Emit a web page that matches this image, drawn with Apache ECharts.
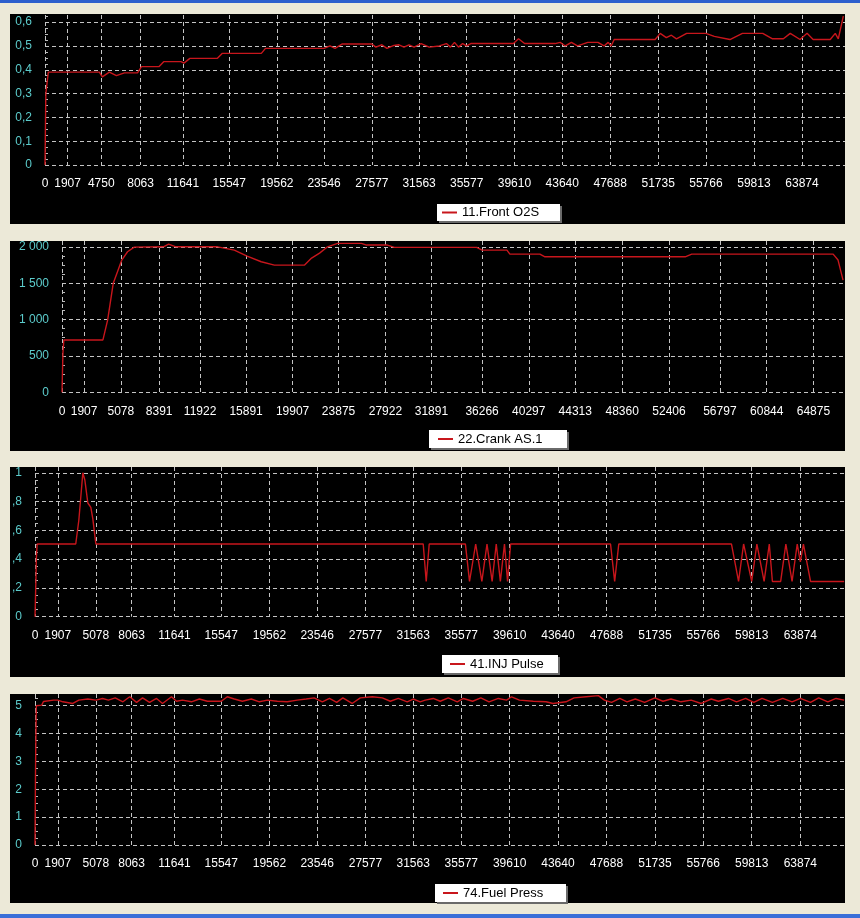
<!DOCTYPE html>
<html>
<head>
<meta charset="utf-8">
<script src="https://cdn.jsdelivr.net/npm/echarts@6/dist/echarts.min.js"></script>
<style>
html,body{margin:0;padding:0;background:#ece9d8;}
#chart{width:860px;height:918px;}
</style>
</head>
<body>
<div id="chart"></div>
<script>
// ---- tick labels ----
const xTicksO2S = [0,1907,4750,8063,11641,15547,19562,23546,27577,31563,35577,39610,43640,47688,51735,55766,59813,63874];
const xTicksCrank = [0,1907,5078,8391,11922,15891,19907,23875,27922,31891,36266,40297,44313,48360,52406,56797,60844,64875];
const xTicksInj = [0,1907,5078,8063,11641,15547,19562,23546,27577,31563,35577,39610,43640,47688,51735,55766,59813,63874];
const xTicksFuel = [0,1907,5078,8063,11641,15547,19562,23546,27577,31563,35577,39610,43640,47688,51735,55766,59813,63874];
const yTicksO2S = [0,0.1,0.2,0.3,0.4,0.5,0.6];
const yTicksCrank = [0,500,1000,1500,2000];
const yTicksInj = [0,0.2,0.4,0.6,0.8,1];
const yTicksFuel = [0,1,2,3,4,5];

// ---- series names ----
const names = ['11.Front O2S','22.Crank AS.1','41.INJ Pulse','74.Fuel Press'];

// ---- series values [time, value] ----
const frontO2S = [[0,0],[70,0.30],[140,0.33],[280,0.39],[4587,0.39],[4835,0.37],[5429,0.39],[6024,0.375],[6703,0.387],[7806,0.387],[8144,0.413],[9608,0.413],[10014,0.434],[11478,0.434],[11724,0.428],[12223,0.448],[14550,0.448],[14965,0.469],[18253,0.469],[18603,0.49],[23546,0.49],[24050,0.5],[24470,0.49],[25058,0.508],[27577,0.508],[27916,0.495],[28424,0.505],[28848,0.49],[29442,0.502],[29866,0.505],[30290,0.495],[30715,0.505],[31139,0.495],[31734,0.51],[32417,0.495],[33271,0.5],[33869,0.51],[34211,0.495],[34552,0.515],[34894,0.495],[35235,0.51],[35577,0.5],[35928,0.51],[39522,0.51],[39953,0.53],[40467,0.51],[43038,0.51],[43469,0.515],[43898,0.5],[44415,0.515],[44932,0.5],[45793,0.515],[46655,0.515],[47171,0.5],[47516,0.515],[47772,0.5],[48025,0.527],[51482,0.527],[51907,0.553],[52422,0.535],[52850,0.545],[53279,0.53],[54137,0.553],[55766,0.553],[56470,0.54],[57790,0.527],[58846,0.553],[60559,0.553],[61388,0.53],[62300,0.53],[62880,0.553],[63708,0.527],[64299,0.553],[64809,0.527],[66254,0.527],[66679,0.553],[66934,0.53],[67359,0.625]];

const crankAS = [[0,0],[80,540],[160,720],[3533,720],[3939,993],[4427,1500],[5161,1818],[5658,1932],[6238,1996],[8753,2000],[9206,2037],[9840,2000],[13441,2000],[14876,1955],[15978,1873],[17201,1795],[18335,1749],[20943,1749],[21547,1845],[22237,1914],[22928,2000],[23791,2047],[25855,2047],[26286,2024],[28095,2024],[28699,1992],[35808,1992],[36266,1955],[38411,1955],[38669,1900],[41257,1900],[41694,1863],[53807,1863],[54367,1900],[66575,1900],[67000,1818],[67430,1543]];

const injPulse = [[0,0],[60,0.2],[110,0.4],[180,0.505],[3400,0.505],[3658,0.67],[3992,1.0],[4159,0.95],[4410,0.79],[4660,0.76],[4827,0.68],[5078,0.505],[32399,0.505],[32650,0.245],[32900,0.505],[35920,0.505],[36263,0.245],[36778,0.505],[37293,0.245],[37722,0.505],[38151,0.245],[38494,0.505],[38837,0.245],[39181,0.505],[39438,0.245],[39692,0.505],[48032,0.505],[48377,0.245],[48721,0.505],[58126,0.505],[58716,0.245],[59138,0.505],[59813,0.245],[60245,0.505],[60850,0.245],[61282,0.505],[61541,0.245],[62232,0.245],[62664,0.505],[63182,0.245],[63615,0.505],[63874,0.38],[64129,0.505],[64724,0.245],[67529,0.245]];

const fuelPress = [[0,0],[40,2.5],[80,4.2],[110,5.0],[565,5.02],[706,5.15],[1553,5.2],[1907,5.2],[2324,5.14],[3158,5.08],[3658,5.2],[4409,5.24],[5078,5.2],[5643,5.26],[6127,5.2],[6692,5.28],[7338,5.14],[7902,5.32],[8479,5.12],[8978,5.28],[9560,5.12],[10142,5.26],[10642,5.08],[11392,5.32],[11807,5.16],[12306,5.2],[13054,5.14],[13719,5.24],[14384,5.16],[15547,5.16],[16049,5.32],[16634,5.24],[17303,5.16],[18055,5.24],[18724,5.14],[19393,5.2],[20226,5.16],[21056,5.14],[21886,5.2],[22633,5.24],[23297,5.28],[23975,5.14],[24576,5.26],[25177,5.12],[25692,5.28],[26464,5.08],[27148,5.28],[28158,5.32],[28988,5.28],[29652,5.16],[30318,5.26],[31065,5.14],[31563,5.24],[32148,5.14],[32566,5.2],[33235,5.26],[33820,5.16],[34489,5.28],[35243,5.14],[35749,5.26],[36521,5.16],[37207,5.28],[37894,5.14],[38666,5.26],[39353,5.2],[39774,5.32],[40432,5.2],[41583,5.16],[42651,5.14],[43229,5.08],[44314,5.14],[44989,5.28],[46000,5.32],[47012,5.36],[47519,5.2],[48118,5.12],[48807,5.26],[49410,5.14],[50099,5.24],[50874,5.12],[51735,5.28],[52407,5.16],[53079,5.24],[53919,5.14],[54759,5.2],[55598,5.08],[56440,5.24],[57031,5.16],[57874,5.26],[58548,5.14],[59307,5.26],[59986,5.12],[60678,5.26],[61542,5.12],[62406,5.26],[63183,5.14],[63874,5.26],[64724,5.12],[65404,5.28],[66169,5.14],[66849,5.26],[67529,5.2]];

// ---- layout / style ----
const FONT = 'Liberation Sans, Arial, sans-serif';
const LINE = '#c8161c';
const GRIDC = '#c4c4c4';
const grids = [
  {left:45, top:15, width:800, height:150},
  {left:62, top:241, width:783, height:151.3},
  {left:35, top:467, width:810, height:149.7},
  {left:35, top:694, width:810, height:151}
];
const xMax = [67500, 67600, 67600, 67600];
const yMax = [0.63, 2080, 1.04, 5.42];
const yStep = [0.1, 500, 0.2, 1];
const xTicks = [xTicksO2S, xTicksCrank, xTicksInj, xTicksFuel];
const yTicks = [yTicksO2S, yTicksCrank, yTicksInj, yTicksFuel];
const yFmt = [
  v => v === 0 ? '0' : v.toFixed(1).replace('.', ','),
  v => v >= 1000 ? Math.floor(v/1000) + ' ' + String(v % 1000).padStart(3,'0') : String(v),
  v => v === 0 ? '0' : (v === 1 ? '1' : v.toFixed(1).replace('0.', ',')),
  v => String(v)
];
const seriesData = [frontO2S, crankAS, injPulse, fuelPress];
const panels = [[10,14,835,210],[10,241,835,210],[10,467,835,210],[10,694,835,209]];
const legendBoxes = [[437,204,123,17],[429,430,138,18],[442,655,116,18],[435,884,131,18]];
const legendLeft = [442, 438, 450, 443];

const splitStyle = {show:true, lineStyle:{color:GRIDC, width:1, type:[4,3]}};

const graphic = [
  {type:'rect', shape:{x:0,y:0,width:860,height:3}, style:{fill:'#2d5fcd'}, z:-10},
  {type:'rect', shape:{x:0,y:914,width:860,height:4}, style:{fill:'#3a6fd8'}, z:-10}
];
panels.forEach(p => graphic.push({type:'rect', shape:{x:p[0],y:p[1],width:p[2],height:p[3]}, style:{fill:'#000000'}, z:-10}));
legendBoxes.forEach(b => {
  graphic.push({type:'rect', shape:{x:b[0]+2,y:b[1]+2,width:b[2],height:b[3]}, style:{fill:'#6a6a6a'}, z:-9});
  graphic.push({type:'rect', shape:{x:b[0],y:b[1],width:b[2],height:b[3]}, style:{fill:'#ffffff'}, z:-8});
});

const option = {
  backgroundColor:'#ece9d8',
  animation:false,
  graphic: graphic,
  grid: grids,
  xAxis: grids.map((g,i) => ({
    type:'value', gridIndex:i, min:0, max:xMax[i],
    axisLine:{show:false},
    axisTick:{show:false, customValues:xTicks[i]},
    axisLabel:{customValues:xTicks[i], color:'#ffffff', fontFamily:FONT, fontSize:12, margin:13, formatter:v => String(v)},
    splitLine:splitStyle
  })),
  yAxis: grids.map((g,i) => ({
    type:'value', gridIndex:i, min:0, max:yMax[i], interval:yStep[i],
    axisLine:{show:false},
    axisTick:{show:false, inside:true, customValues:yTicks[i]},
    minorTick:{show:true, splitNumber:4, length:3, lineStyle:{color:'#bdbdbd', width:1}},
    axisLabel:{customValues:yTicks[i], color:'#5ccccc', fontFamily:FONT, fontSize:12, margin:13, formatter:yFmt[i]},
    splitLine:splitStyle
  })),
  legend: legendBoxes.map((b,i) => ({
    data:[names[i]], left:legendLeft[i], top:b[1] + b[3]/2 - 7.5, padding:0,
    icon:'rect', itemWidth:15, itemHeight:2, selectedMode:false,
    textStyle:{color:'#000', fontFamily:FONT, fontSize:13, lineHeight:15}
  })),
  series: seriesData.map((d,i) => ({
    name:names[i], type:'line', xAxisIndex:i, yAxisIndex:i, data:d,
    symbol:'none', silent:true, clip:true,
    lineStyle:{color:LINE, width:1.4}, itemStyle:{color:LINE}
  }))
};
const chart = echarts.init(document.getElementById('chart'));
chart.setOption(option);
</script>
</body>
</html>
